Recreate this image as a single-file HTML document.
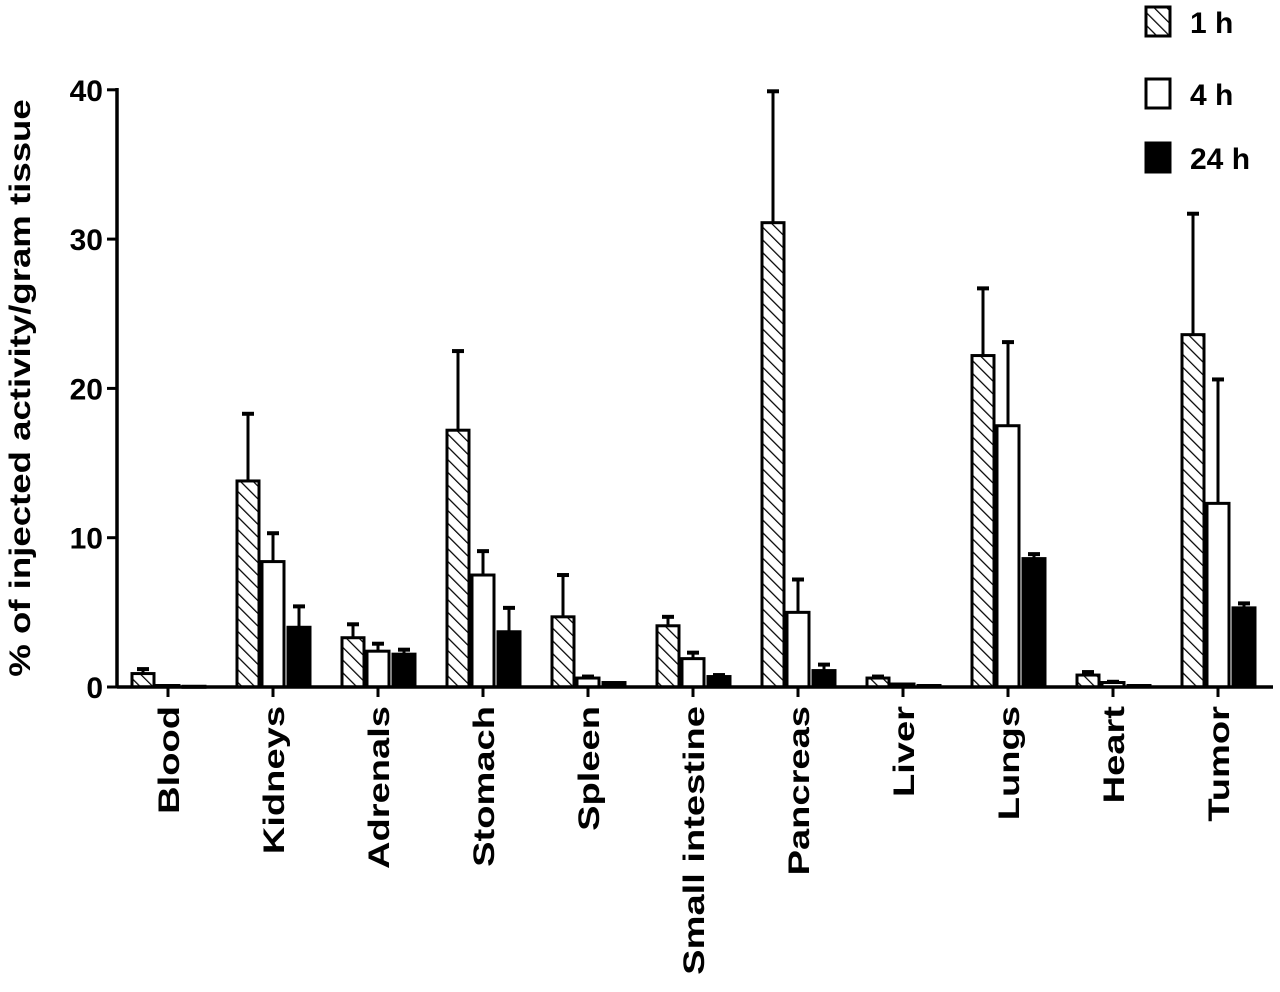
<!DOCTYPE html>
<html><head><meta charset="utf-8"><style>
html,body{margin:0;padding:0;background:#fff;}
svg text{font-family:"Liberation Sans",sans-serif;font-weight:bold;fill:#000;}
</style></head><body>
<svg id="chart" width="1280" height="987">
<defs>
<pattern id="hatch" patternUnits="userSpaceOnUse" width="9" height="9" patternTransform="rotate(-45)">
<rect width="9" height="9" fill="#fff"/><line x1="0" y1="0" x2="0" y2="9" stroke="#000" stroke-width="2.5"/>
</pattern>
</defs>
<g id="plot"></g>
<text transform="translate(30,388) rotate(-90) scale(1.22,1)" text-anchor="middle" font-size="30">% of injected activity/gram tissue</text>
<g>
<rect x="1146" y="7" width="24" height="29" fill="url(#hatch)" stroke="#000" stroke-width="3"/>
<text x="1190" y="33" font-size="30">1 h</text>
<rect x="1146" y="79" width="24" height="29" fill="#fff" stroke="#000" stroke-width="3"/>
<text x="1190" y="105" font-size="30">4 h</text>
<rect x="1146" y="143" width="24" height="29" fill="#000" stroke="#000" stroke-width="3"/>
<text x="1190" y="169" font-size="30">24 h</text>
</g>
</svg>
<script>
const categories=["Blood","Kidneys","Adrenals","Stomach","Spleen","Small intestine","Pancreas","Liver","Lungs","Heart","Tumor"];
const series1h=[0.9,13.8,3.3,17.2,4.7,4.1,31.1,0.6,22.2,0.8,23.6];
const err1h=[1.2,18.3,4.2,22.5,7.5,4.7,39.9,0.7,26.7,1.0,31.7];
const series4h=[0.1,8.4,2.4,7.5,0.6,1.9,5.0,0.2,17.5,0.3,12.3];
const err4h=[0.1,10.3,2.9,9.1,0.7,2.3,7.2,0.2,23.1,0.35,20.6];
const series24h=[0.05,4.0,2.2,3.7,0.3,0.7,1.1,0.1,8.6,0.1,5.3];
const err24h=[0.05,5.4,2.5,5.3,0.3,0.8,1.5,0.1,8.9,0.1,5.6];
const yTicks=[0,10,20,30,40];
const NS="http://www.w3.org/2000/svg";
const g=document.getElementById('plot');
const x0=117,y0=687,pxPer=14.93;
const y=v=>y0-v*pxPer;
const cx=i=>168+i*105;
function el(t,a){const e=document.createElementNS(NS,t);for(const k in a)e.setAttribute(k,a[k]);g.appendChild(e);return e;}
const series=[[series1h,err1h,'url(#hatch)','1h',-25],[series4h,err4h,'#fff','4h',0],[series24h,err24h,'#000','24h',26]];
categories.forEach((c,i)=>{
 series.forEach(s=>{
  const v=s[0][i],e=s[1][i],bx=cx(i)+s[4]-11;
  if(e>v){
   const l=el('line',{x1:bx+11,x2:bx+11,y1:y(v),y2:y(e),stroke:'#000','stroke-width':3});
   
   
   const cp=el('line',{x1:bx+5,x2:bx+17,y1:y(e),y2:y(e),stroke:'#000','stroke-width':4});
   
   
  }
  const r=el('rect',{x:bx,y:y(v),width:22,height:Math.max(y0-y(v),1),fill:s[2],stroke:'#000','stroke-width':3});
  
  
 });
 const t=el('line',{x1:cx(i),x2:cx(i),y1:y0,y2:y0+10,stroke:'#000','stroke-width':3});
 
 
 const tx=el('text',{transform:`translate(${cx(i)+11},706) rotate(-90) scale(1.27,1)`,'text-anchor':'end','font-size':30});
 tx.textContent=c;
 
 
});
yTicks.forEach(v=>{
 const t=el('line',{x1:x0-10,x2:x0,y1:y(v),y2:y(v),stroke:'#000','stroke-width':3});
 
 
 const tx=el('text',{x:x0-14,y:y(v)+11,'text-anchor':'end','font-size':30});
 tx.textContent=v;
 
 
});
const ya=el('line',{x1:x0,x2:x0,y1:88,y2:y0+1.5,stroke:'#000','stroke-width':3.5});


const xa=el('line',{x1:x0,x2:1273,y1:y0,y2:y0,stroke:'#000','stroke-width':3.5});


</script>
</body></html>
